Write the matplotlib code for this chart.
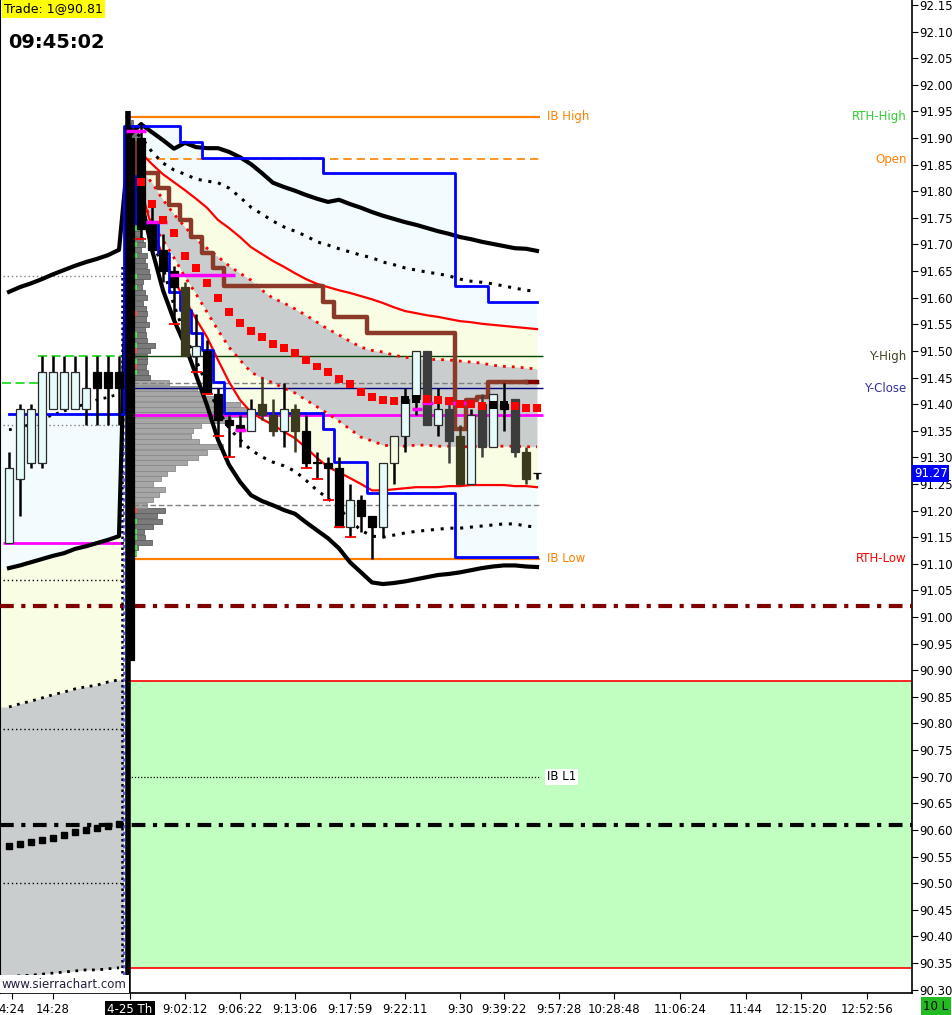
import matplotlib
matplotlib.use("Agg")
import matplotlib.pyplot as plt
import numpy as np

# ---------------- data ----------------
# bars 0-10: tail of the previous session, bars 11-48: the 4-25 session
opens = [91.14, 91.26, 91.29, 91.29, 91.39, 91.39, 91.39, 91.39, 91.46, 91.46, 91.46,
         91.90, 91.90, 91.74, 91.69, 91.65, 91.62, 91.49, 91.50, 91.42, 91.37,
         91.36, 91.35, 91.40, 91.38, 91.35, 91.39, 91.35, 91.29, 91.29, 91.28,
         91.17, 91.22, 91.19, 91.17, 91.29, 91.34, 91.41, 91.50, 91.36, 91.39,
         91.34, 91.25, 91.40, 91.32, 91.40, 91.41, 91.31, 91.27]
highs = [91.31, 91.40, 91.40, 91.49, 91.49, 91.49, 91.49, 91.49, 91.49, 91.49, 91.49,
         91.95, 91.93, 91.77, 91.72, 91.66, 91.63, 91.57, 91.52, 91.43, 91.38,
         91.38, 91.41, 91.45, 91.41, 91.44, 91.40, 91.38, 91.31, 91.30, 91.30,
         91.25, 91.23, 91.19, 91.29, 91.34, 91.43, 91.50, 91.50, 91.43, 91.41,
         91.36, 91.39, 91.42, 91.42, 91.44, 91.41, 91.32, 91.27]
lows = [91.14, 91.19, 91.28, 91.28, 91.39, 91.39, 91.39, 91.36, 91.36, 91.36, 91.36,
        90.25, 91.71, 91.69, 91.63, 91.55, 91.49, 91.46, 91.42, 91.34, 91.30,
        91.32, 91.35, 91.37, 91.34, 91.32, 91.31, 91.28, 91.26, 91.22, 91.17,
        91.15, 91.16, 91.11, 91.15, 91.25, 91.31, 91.38, 91.36, 91.34, 91.29,
        91.25, 91.25, 91.30, 91.32, 91.35, 91.30, 91.25, 91.26]
closes = [91.28, 91.39, 91.39, 91.46, 91.46, 91.46, 91.46, 91.43, 91.43, 91.43, 91.43,
          90.92, 91.73, 91.69, 91.65, 91.62, 91.49, 91.51, 91.42, 91.37, 91.36,
          91.35, 91.39, 91.38, 91.35, 91.39, 91.35, 91.29, 91.29, 91.28, 91.17,
          91.22, 91.19, 91.17, 91.29, 91.34, 91.41, 91.50, 91.36, 91.39, 91.33,
          91.25, 91.38, 91.32, 91.42, 91.39, 91.31, 91.26, 91.27]
bar_kind = "uuuuuuuukkk" + "kkkkkoukkk" + "kuoouokkkk" + "ukkuyuugug" + "ougukgok"

# bars that print a red "new low" tick
low_tick_bars = [12, 15, 17, 18, 19, 20, 27, 28, 29, 30, 31]

# VWAP bands (prior session part, bars 0-10)
prior_top = [91.611, 91.620, 91.627, 91.635, 91.644, 91.652, 91.660, 91.667, 91.673, 91.680, 91.690]
prior_bottom = [91.092, 91.097, 91.103, 91.109, 91.115, 91.120, 91.128, 91.133, 91.139, 91.145, 91.152]
prior_vwap = [91.352, 91.355, 91.363, 91.372, 91.380, 91.387, 91.395, 91.400, 91.408, 91.413, 91.419]
prior_low1 = [90.831, 90.837, 90.842, 90.848, 90.854, 90.859, 90.865, 90.869, 90.872, 90.878, 90.882]
prior_low2 = [90.324, 90.326, 90.327, 90.329, 90.331, 90.333, 90.335, 90.337, 90.337, 90.339, 90.341]
prior_squares = [90.570, 90.574, 90.577, 90.581, 90.585, 90.590, 90.596, 90.600, 90.604, 90.607, 90.611]

# VWAP bands of the day (bars 11-48)
band_top = [91.906, 91.926, 91.911, 91.896, 91.880, 91.891, 91.883, 91.881, 91.881, 91.874,
            91.864, 91.851, 91.834, 91.816, 91.808, 91.801, 91.793, 91.786, 91.780, 91.784,
            91.776, 91.769, 91.761, 91.754, 91.748, 91.742, 91.737, 91.731, 91.725, 91.720,
            91.714, 91.710, 91.705, 91.701, 91.697, 91.693, 91.692, 91.688]
band_dot_top = [91.919, 91.902, 91.874, 91.853, 91.840, 91.832, 91.823, 91.819, 91.816, 91.806,
                91.789, 91.770, 91.757, 91.744, 91.733, 91.725, 91.716, 91.705, 91.699, 91.692,
                91.686, 91.680, 91.675, 91.667, 91.662, 91.656, 91.652, 91.648, 91.645, 91.641,
                91.635, 91.631, 91.629, 91.626, 91.622, 91.618, 91.614, 91.612]
red_top = [91.896, 91.872, 91.851, 91.832, 91.817, 91.802, 91.786, 91.769, 91.746, 91.731,
           91.714, 91.695, 91.682, 91.669, 91.658, 91.646, 91.635, 91.626, 91.620, 91.614,
           91.609, 91.603, 91.597, 91.590, 91.582, 91.575, 91.571, 91.567, 91.564, 91.560,
           91.556, 91.554, 91.551, 91.549, 91.547, 91.545, 91.543, 91.541]
red_dot_top = [91.878, 91.840, 91.816, 91.784, 91.757, 91.733, 91.710, 91.693, 91.677, 91.660,
               91.646, 91.633, 91.614, 91.599, 91.590, 91.579, 91.567, 91.554, 91.541, 91.530,
               91.518, 91.507, 91.501, 91.498, 91.492, 91.488, 91.486, 91.484, 91.484, 91.483,
               91.481, 91.479, 91.477, 91.473, 91.471, 91.470, 91.468, 91.466]
red_dot_bottom = [91.859, 91.793, 91.742, 91.708, 91.675, 91.639, 91.607, 91.573, 91.539, 91.507,
                  91.483, 91.460, 91.449, 91.440, 91.430, 91.421, 91.408, 91.395, 91.382, 91.368,
                  91.353, 91.338, 91.331, 91.323, 91.321, 91.321, 91.323, 91.323, 91.321, 91.321,
                  91.320, 91.320, 91.321, 91.321, 91.321, 91.321, 91.320, 91.320]
red_bottom = [91.896, 91.802, 91.731, 91.678, 91.633, 91.596, 91.560, 91.526, 91.483, 91.442,
              91.408, 91.385, 91.372, 91.361, 91.348, 91.336, 91.318, 91.299, 91.282, 91.272,
              91.261, 91.250, 91.238, 91.238, 91.240, 91.242, 91.244, 91.244, 91.244, 91.246,
              91.246, 91.248, 91.248, 91.248, 91.248, 91.246, 91.246, 91.244]
band_dot_bottom = [91.878, 91.765, 91.708, 91.656, 91.586, 91.530, 91.483, 91.436, 91.389, 91.355,
                   91.333, 91.314, 91.301, 91.291, 91.284, 91.274, 91.257, 91.238, 91.223, 91.205,
                   91.182, 91.163, 91.152, 91.150, 91.154, 91.158, 91.161, 91.163, 91.165, 91.167,
                   91.167, 91.169, 91.171, 91.173, 91.175, 91.175, 91.171, 91.169]
band_bottom = [91.896, 91.784, 91.690, 91.614, 91.558, 91.511, 91.455, 91.398, 91.333, 91.286,
               91.254, 91.229, 91.218, 91.210, 91.201, 91.194, 91.178, 91.163, 91.148, 91.129,
               91.103, 91.084, 91.065, 91.062, 91.064, 91.067, 91.071, 91.075, 91.079, 91.081,
               91.084, 91.088, 91.092, 91.095, 91.097, 91.097, 91.095, 91.094]

# developing VWAP markers, bars 12-48 (black where it sits on a bar body)
vwap_marks = [91.817, 91.776, 91.746, 91.722, 91.678, 91.656, 91.628, 91.599, 91.573, 91.552,
              91.537, 91.526, 91.513, 91.505, 91.496, 91.483, 91.471, 91.460, 91.447, 91.438,
              91.423, 91.413, 91.408, 91.406, 91.408, 91.410, 91.410, 91.408, 91.406, 91.400,
              91.400, 91.396, 91.398, 91.398, 91.396, 91.393, 91.393]
vwap_black = [36, 37, 44, 45]

# channel (blue) and trailing step (brown)
chan_high = [91.382] * 11 + [91.923] * 5 + [91.893] * 2 + [91.863] * 11 + [91.834] * 12 + [91.622] * 3 + [91.592] * 5
chan_low = ([91.893] + [91.740] * 2 + [91.684, 91.611, 91.577, 91.534, 91.502, 91.442]
            + [91.383] * 9 + [91.353] + [91.291] * 3 + [91.233] * 8 + [91.113] * 8)
trail = ([91.891] + [91.834] * 2 + [91.806, 91.774, 91.746, 91.714, 91.684, 91.656]
         + [91.622] * 9 + [91.592] + [91.564] * 3 + [91.534] * 8 + [91.353, 91.408, 91.413] + [91.442] * 5)

# volume profile of the day
profile_prices = np.round(np.arange(91.11, 91.935, 0.01), 2)
profile_vol = [3, 5, 7, 21, 14, 13, 22, 31, 26, 34, 16, 22, 28, 34, 22, 30, 36, 44, 56, 67,
               76, 92, 68, 60, 62, 70, 100, 122, 116, 109, 82, 72, 66, 38, 19, 17, 15, 16, 16, 19,
               24, 16, 15, 14, 18, 15, 16, 15, 12, 16, 14, 11, 12, 19, 18, 16, 14, 16, 10, 14,
               12, 10, 10, 9, 9, 8, 7, 6, 5, 5, 6, 8, 8, 10, 10, 12, 12, 10, 10, 8, 6, 3, 2]
delta_up = [91.77, 91.73, 91.70, 91.68, 91.64, 91.62, 91.53, 91.51, 91.48, 91.46, 91.18, 91.16, 91.15, 91.13, 91.12]
delta_down = [91.57, 91.50, 91.47, 91.20]
va_low, va_high, poc = 91.21, 91.44, 91.38

# key levels
ib_high, ib_low, rth_open = 91.94, 91.11, 91.86
y_high, y_close = 91.49, 91.43
ib_l1 = 90.70
zone_low, zone_high = 90.34, 90.88
pivot_red, pivot_black = 91.02, 90.61
prior_levels_gray = [91.64, 91.36]
prior_levels_black = [91.07, 90.79, 90.50]
prior_high_steps = [(91.44, -0.6, 2.6), (91.49, 2.6, 10.4)]
magenta_marks = [(91.913, 10.6, 12.5), (91.742, 12.5, 14.4), (91.643, 14.6, 20.5),
                 (91.352, 20.5, 21.5), (91.391, 36.6, 37.5), (91.403, 37.5, 38.5), (91.403, 39.6, 41.5)]
last_price = 91.27

time_ticks = [0.25, 4, 11, 16, 21, 26, 31, 36, 41, 45, 50, 55, 61, 67, 72, 78]
time_labels = ["4:24", "14:28", "4-25 Th", "9:02:12", "9:06:22", "9:13:06", "9:17:59", "9:22:11",
               "9:30", "9:39:22", "9:57:28", "10:28:48", "11:06:24", "11:44", "12:15:20", "12:52:56"]

# ---------------- figure ----------------
W, H = 953, 1015
fig = plt.figure(figsize=(W / 100, H / 100), dpi=100)
fig.patch.set_facecolor("white")
ax = fig.add_axes([0, 22 / H, 912 / W, 993 / H])
xmin, xmax = -0.818, 82.09
ax.set_xlim(xmin, xmax)
ax.set_ylim(90.2936, 92.1594)

x_all = np.arange(len(opens))
x_prev = np.arange(11)
x_day = np.arange(11, 49)
x_prev_ext = np.r_[xmin, x_prev, 10.4]

def ext(v):
    return np.r_[v[0], v, v[-1]]

CYAN, YELLOW, GRAY = "#f2fcff", "#f9fde3", "#c9cdcd"

# prior session fills
ax.fill_between(x_prev_ext, ext([chan_high[0]] * 11), ext(prior_bottom), color=CYAN, lw=0, zorder=1)
ax.fill_between(x_prev_ext, ext(prior_bottom), ext(prior_low1), color=YELLOW, lw=0, zorder=1)
ax.fill_between(x_prev_ext, ext(prior_low1), ext(prior_low2), color=GRAY, lw=0, zorder=1)

# day fills
ch_hi_day = np.array(chan_high[11:])
ch_lo_day = np.array(chan_low)
ax.fill_between(x_day, ch_hi_day, red_dot_top, where=ch_hi_day > np.array(red_top),
                step="mid", color=CYAN, lw=0, zorder=1)
ax.fill_between(x_day, red_dot_bottom, ch_lo_day, where=np.array(red_bottom) > ch_lo_day,
                step="mid", color=CYAN, lw=0, zorder=1)
ax.fill_between(x_day, red_top, red_dot_top, color=YELLOW, lw=0, zorder=1.2)
ax.fill_between(x_day, red_dot_bottom, red_bottom, color=YELLOW, lw=0, zorder=1.2)
ax.fill_between(x_day, red_dot_top, red_dot_bottom, color=GRAY, lw=0, zorder=1.3)

# green zone
ax.fill_between([10.55, xmax], zone_low, zone_high, color="#c0ffc0", lw=0, zorder=1)
ax.hlines([zone_low, zone_high], 10.55, xmax, color="#ff0000", lw=1.2, zorder=2)

# prior session level lines
ax.hlines(prior_levels_gray, -0.5, 10.6, color="#808080", lw=1, linestyles=(0, (1, 2)), zorder=2)
ax.hlines(prior_levels_black, -0.5, 10.4, color="black", lw=1, linestyles=(0, (1, 2)), zorder=2)
for lvl, a, b in prior_high_steps:
    ax.hlines(lvl, a, b, color="#22dd22", lw=1.3, linestyles=(0, (5, 2.5)), zorder=2)
ax.hlines(91.14, -0.5, 10.4, color="#ff00ff", lw=2, zorder=3)

# volume profile
vol_x0 = 11.1
for p, v in zip(profile_prices, profile_vol):
    in_va = va_low <= p <= va_high
    ax.barh(p, v / 11.0, left=vol_x0, height=0.0095,
            color="#a6a6a6" if in_va else "#7a7a7a",
            edgecolor="#8a8a8a" if in_va else "#5e5e5e", lw=0.6, zorder=2.5)
ax.barh(delta_up, 0.55, left=vol_x0, height=0.0095, color="#44ee44", lw=0, zorder=2.6)
ax.barh(delta_down, 0.55, left=vol_x0, height=0.0095, color="#ff5050", lw=0, zorder=2.6)

# day reference lines
ax.hlines(y_high, 10.55, 48.5, color="#004400", lw=1, zorder=3)
ax.hlines(y_close, 10.55, 48.5, color="#000080", lw=1, zorder=3)
ax.hlines([va_high, va_low], 10.55, 48.3, color="#808080", lw=1, linestyles=(0, (4, 2)), zorder=3)
ax.hlines(poc, 10.8, 48.5, color="#ff00ff", lw=2, zorder=3.5)
ax.hlines(ib_high, 10.55, 48.3, color="#ff8000", lw=1.6, zorder=3)
ax.hlines(ib_low, 11.0, 48.3, color="#ff8000", lw=1.6, zorder=3)
ax.hlines(rth_open, 11.0, 48.3, color="#ff8000", lw=1.2, linestyles=(0, (5, 3)), zorder=3)
ax.hlines(ib_l1, 10.55, 48.3, color="black", lw=0.9, linestyles=(0, (1, 1.5)), zorder=3)
ax.hlines(pivot_red, xmin, xmax, color="#800000", lw=3, linestyles=(0, (3.3, 1.8, 1, 1.8)), zorder=3)
ax.hlines(pivot_black, xmin, xmax, color="black", lw=3, linestyles=(0, (3.3, 1.8, 1, 1.8)), zorder=3)

# session break
ax.vlines(10.25, 90.29, 91.66, color="black", lw=1.8, linestyles=(0, (1, 1.2)), zorder=3)
ax.vlines(10.5, 90.29, 91.40, color="#4040ff", lw=1.2, linestyles=(0, (2, 2)), zorder=3)

# bands
ax.plot(x_all, prior_top + band_top, color="black", lw=3, zorder=4)
ax.plot(x_all, prior_bottom + band_bottom, color="black", lw=3, zorder=4)
ax.plot(x_prev, prior_vwap, color="black", lw=2, linestyle=(0, (1, 2)), zorder=4)
ax.plot(x_prev, prior_low1, color="black", lw=2, linestyle=(0, (1, 2)), zorder=4)
ax.plot(x_prev, prior_low2, color="black", lw=2, linestyle=(0, (1, 2)), zorder=4)
ax.plot(x_prev, prior_squares, "s", color="black", ms=5, zorder=4)
ax.plot(x_day, band_dot_top, color="black", lw=2.2, linestyle=(0, (1, 2.2)), zorder=4)
ax.plot(x_day, band_dot_bottom, color="black", lw=2.2, linestyle=(0, (1, 2.2)), zorder=4)
ax.plot(x_day, red_top, color="#ff0000", lw=1.6, zorder=4)
ax.plot(x_day, red_bottom, color="#ff0000", lw=1.6, zorder=4)
ax.plot(x_day, red_dot_top, color="#ff0000", lw=2, linestyle=(0, (1, 2.2)), zorder=4)
ax.plot(x_day, red_dot_bottom, color="#ff0000", lw=2, linestyle=(0, (1, 2.2)), zorder=4)

# channel + trailing step
ax.step(x_all, chan_high, where="mid", color="#0000ff", lw=2, zorder=4.5)
ax.step(x_day, chan_low, where="mid", color="#0000ff", lw=2, zorder=4.5)
ax.step(x_day[:-1], trail[:-1], where="mid", color="#8b3a2a", lw=3.2, zorder=5)
ax.step(x_day[-2:], trail[-2:], where="post", color="#800000", lw=3.2, zorder=4.9)

# candles
fills = {"u": "#e6fbfb", "y": "#f6fce2", "k": "#000000", "o": "#3b3a1f", "g": "#3c3c3c"}
edges = {"u": "#2a2a2a", "y": "#2a2a2a", "k": "#000000", "o": "#3b3a1f", "g": "#3c3c3c"}
for xi, o, h, l, c, k in zip(x_all, opens, highs, lows, closes, bar_kind):
    big = (h - l) > 1.0
    ax.vlines(xi - (0.2 if big else 0), l, h, color="black" if k in "uy" else edges[k],
              lw=4 if big else 1.8, zorder=6)
    ax.bar(xi, max(abs(c - o), 0.0015), bottom=min(o, c), width=0.66,
           color=fills[k], edgecolor=edges[k], lw=0.9, zorder=6.5)
for b in low_tick_bars:
    ax.hlines(lows[b], b - 0.5, b + 0.5, color="#ff0000", lw=1.3, zorder=6.6)
for lvl, a, b in magenta_marks:
    ax.hlines(lvl, a, b, color="#ff00ff", lw=2.5, zorder=6.7)

# developing VWAP squares
mark_x = np.arange(12, 49)
mark_c = ["black" if i in vwap_black else "#ff0000" for i in mark_x]
ax.scatter(mark_x, vwap_marks, marker="s", s=30, c=mark_c, lw=0, zorder=7)

# level labels
lab_kw = dict(fontsize=8.5, va="center", zorder=9)
ax.text(48.9, ib_high, "IB High", color="#ff8000", ha="left", **lab_kw)
ax.text(48.9, ib_low, "IB Low", color="#ff8000", ha="left", **lab_kw)
ax.text(48.9, ib_l1, "IB L1", color="black", ha="left",
        bbox=dict(facecolor="white", edgecolor="none", pad=1), **lab_kw)
ax.text(81.6, ib_high, "RTH-High", color="#33cc33", ha="right", **lab_kw)
ax.text(81.6, rth_open, "Open", color="#ff8000", ha="right", **lab_kw)
ax.text(81.6, y_high, "Y-High", color="#404020", ha="right", **lab_kw)
ax.text(81.6, y_close, "Y-Close", color="#3030a0", ha="right", **lab_kw)
ax.text(81.6, ib_low, "RTH-Low", color="#ff0000", ha="right", **lab_kw)

# axes styling
ax.spines["top"].set_visible(False)
ax.spines["left"].set_linewidth(1.5)
ax.spines["right"].set_linewidth(1.2)
ax.spines["bottom"].set_linewidth(1.2)
ax.yaxis.tick_right()
ax.set_yticks(np.round(np.arange(90.30, 92.151, 0.05), 2))
ax.set_yticklabels([f"{v:.2f}" for v in np.arange(90.30, 92.151, 0.05)])
ax.tick_params(axis="y", direction="out", length=4, pad=1.5, labelsize=8.5)
ax.set_xticks(time_ticks)
ax.set_xticklabels(time_labels)
ax.tick_params(axis="x", direction="out", length=4, pad=3, labelsize=8.5)
day_lbl = ax.get_xticklabels()[2]
day_lbl.set_color("white")
day_lbl.set_bbox(dict(facecolor="black", edgecolor="none", pad=1.5))

ax.annotate(f"{last_price:.2f}", xy=(1.002, last_price), xycoords=("axes fraction", "data"),
            fontsize=8.5, color="white", va="center", ha="left",
            bbox=dict(facecolor="#0000ff", edgecolor="none", pad=1.2), zorder=10,
            annotation_clip=False)

fig.text(4 / W, 1 - 9 / H, "Trade: 1@90.81", fontsize=9, va="center", ha="left",
         bbox=dict(facecolor="#ffff00", edgecolor="none", pad=1.5))
fig.text(8 / W, 1 - 42 / H, "09:45:02", fontsize=14, fontweight="bold", va="center", ha="left")
fig.text(2 / W, 1 - 984 / H, "www.sierrachart.com", fontsize=8.5, va="center", ha="left",
         color="#202040", bbox=dict(facecolor="white", edgecolor="none", pad=1.5))
fig.text(936 / W, 1 - 1006 / H, "10 L", fontsize=8.5, va="center", ha="center",
         bbox=dict(facecolor="#22bb22", edgecolor="none", pad=2))

fig.savefig("out.png", dpi=100)
